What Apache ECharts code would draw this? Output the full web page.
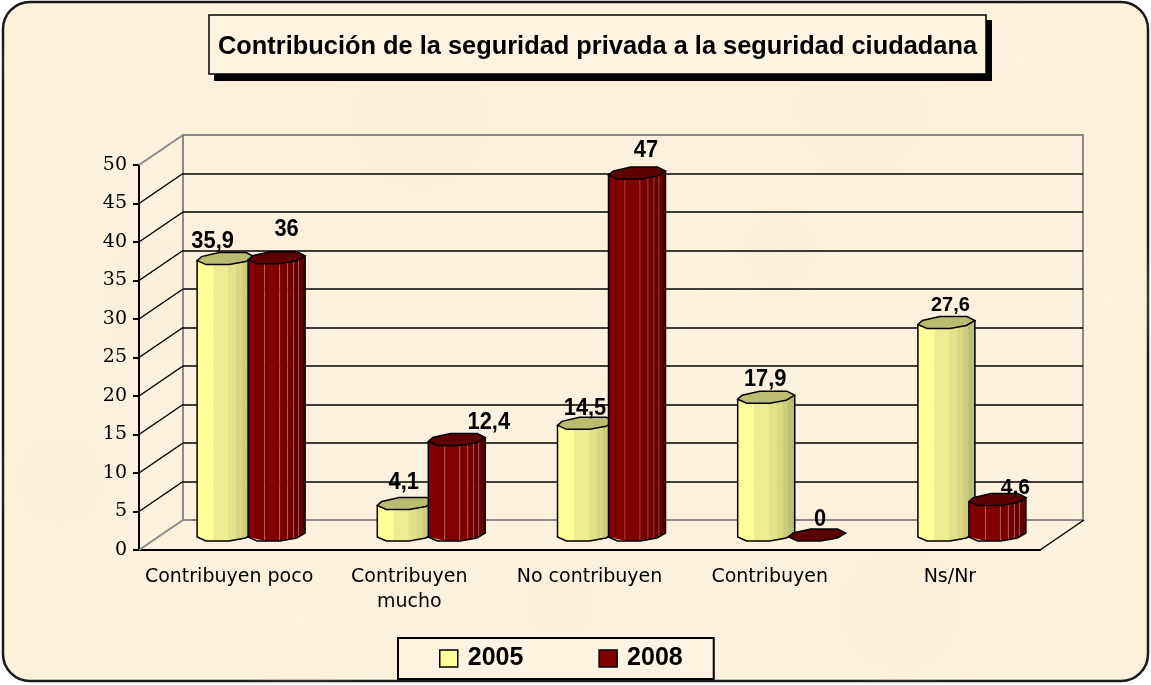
<!DOCTYPE html>
<html><head><meta charset="utf-8">
<style>html,body{margin:0;padding:0;background:#fff}#c{width:1151px;height:685px}</style>
<script src="https://cdn.jsdelivr.net/npm/echarts@6/dist/echarts.min.js"></script></head>
<body><div id="c"></div>
<script>
const categories = ['Contribuyen poco','Contribuyen\nmucho','No contribuyen','Contribuyen','Ns/Nr'];
const values2005 = [35.9,4.1,14.5,17.9,27.6];
const values2008 = [36,12.4,47,0,4.6];
const labels2005 = ['35,9','4,1','14,5','17,9','27,6'];
const labels2008 = ['36','12,4','47','0','4,6'];
const yTicks = [0,5,10,15,20,25,30,35,40,45,50];

// presentation settings
const DEPTH=[44,-30], MID=[22,-15], SPREAD=25.5;
const TOP=[[-28.5,2],[-24,-2],[-6.5,-6],[20.5,-6],[28.5,-2],[20,3],[3.5,6],[-19.5,6]];
const FRONT=[[-28.5,2],[-19.5,6],[3.5,6],[20,3],[28.5,-2]];
const STRIPS=[-28.5,-12,3,11,17,22,28.5];
const YEL={s:['#ffff99','#eeee90','#e2e288','#d8d882','#cccc7b','#bebe72'],top:'#bcbc70',line:null};
const RED={s:['#800000','#800000','#7a0000','#700000','#660000','#5c0000'],top:'#5c0000',line:'rgba(235,150,150,.3)'};
const nudge2005=[[-13,-17],[-2,-21],[-1,-15],[-1,-18],[4,-17]];
const nudge2008=[[10,-28],[32,-17],[9,-22],[3,-15],[18,-12]];
const sizes2005=[23,23,23,23,21], sizes2008=[23,23,23,23,22];
const BLOTCHES=[[30,62,35,'#fff6f0',.3],[160,300,90,'#f6e6c0',.2],[420,120,110,'#f7e8c6',.2],[640,330,120,'#fff8ea',.3],
  [860,110,100,'#f6e6c0',.18],[1110,300,70,'#fff8ea',.3],[300,620,90,'#fff8ea',.3],[900,610,100,'#f7e8c6',.18],
  [60,480,70,'#f7e8c6',.2],[1020,60,60,'#fff8ea',.3],[560,600,60,'#f7e8c6',.16],[780,250,70,'#f7e8c6',.12]];

function frontY(x){for(let i=0;i<FRONT.length-1;i++){const a=FRONT[i],b=FRONT[i+1];
  if(x<=b[0])return a[1]+(b[1]-a[1])*(x-a[0])/(b[0]-a[0]);}return FRONT[FRONT.length-1][1];}
function barRender(sign,pal,labels,nudge,sizes){
  return function(p,api){
    const top=api.coord([api.value(0),api.value(1)]), base=api.coord([api.value(0),0]);
    const cx=top[0]+MID[0]+sign*SPREAD, yt=top[1]+MID[1], yb=base[1]+MID[1], ch=[];
    if(yb-yt>0.5){
      for(let i=0;i<STRIPS.length-1;i++){const a=STRIPS[i],b=STRIPS[i+1];
        ch.push({type:'polygon',shape:{points:[[cx+a,yt+frontY(a)],[cx+b,yt+frontY(b)],[cx+b,yb+frontY(b)],[cx+a,yb+frontY(a)]]},
          style:{fill:pal.s[i],stroke:pal.line||pal.s[i],lineWidth:pal.line?1:.5}});}
      const pts=[[cx-28.5,yt+2]].concat(FRONT.map(f=>[cx+f[0],yb+f[1]]),[[cx+28.5,yt-2]]);
      ch.push({type:'polyline',shape:{points:pts},style:{fill:null,stroke:'#000',lineWidth:1.5}});
    }
    ch.push({type:'polygon',shape:{points:TOP.map(t=>[cx+t[0],yt+t[1]])},style:{fill:pal.top,stroke:'#000',lineWidth:1.5}});
    const i=p.dataIndex,n=nudge[i];
    ch.push({type:'text',x:cx+n[0],y:yt+n[1],scaleX:.95,style:{text:labels[i],fill:'#000',align:'center',verticalAlign:'middle',
      font:'bold '+sizes[i]+'px "Liberation Sans"'}});
    return {type:'group',children:ch};
  };
}
function wallRender(p,api){
  const v=api.value(0), c=api.coord([0,v]), x=p.coordSys.x, ch=[];
  const edge=v===0||v===50, col=edge?'#8a8a8a':'#000';
  ch.push({type:'line',shape:{x1:x,y1:c[1],x2:x+DEPTH[0],y2:c[1]+DEPTH[1]},style:{stroke:col,lineWidth:edge?2:1.5}});
  if(v===0)ch.push({type:'line',shape:{x1:x+p.coordSys.width,y1:c[1],x2:x+p.coordSys.width+DEPTH[0],y2:c[1]+DEPTH[1]},style:{stroke:'#000',lineWidth:1.5}});
  return {type:'group',children:ch};
}
const chart=echarts.init(document.getElementById('c'),null,{renderer:'canvas'});
chart.setOption({
  animation:false,
  graphic:[{type:'rect',z:-10,silent:true,shape:{x:3,y:2,width:1145,height:679,r:27},
      style:{fill:'#fbf1dc',stroke:'#1a1a1a',lineWidth:2.5}}]
    .concat(BLOTCHES.map(b=>({type:'circle',z:-9,silent:true,shape:{cx:b[0],cy:b[1],r:b[2]},
      style:{opacity:b[4],fill:new echarts.graphic.RadialGradient(.5,.5,.5,[{offset:0,color:b[3]},{offset:1,color:'rgba(251,241,220,0)'}])}})))
    .concat([{type:'rect',z:-5,silent:true,shape:{x:214,y:20,width:778,height:61},style:{fill:'#000'}}]),
  title:{text:'Contribución de la seguridad privada a la seguridad ciudadana',left:209,top:15,
    padding:[19,9,15,9],backgroundColor:'#fcf3e0',borderColor:'#000',borderWidth:1.5,
    textStyle:{fontFamily:'Liberation Sans',fontWeight:'bold',fontSize:25.4,color:'#000'}},
  legend:{data:['2005','2008'],left:398,top:638,padding:[8,31,8,41],itemGap:75,itemWidth:18,itemHeight:17,icon:'rect',
    backgroundColor:'#fcf3e0',borderColor:'#000',borderWidth:2,selectedMode:false,
    itemStyle:{borderColor:'#000',borderWidth:1.5},
    textStyle:{fontFamily:'Liberation Sans',fontWeight:'bold',fontSize:25,color:'#000',padding:[0,0,0,5]}},
  grid:[{left:139,top:165,width:901,height:385},
        {left:183,top:135,width:900,height:385,show:true,borderColor:'#8a8a8a',borderWidth:2,backgroundColor:'transparent'}],
  xAxis:[{type:'category',gridIndex:0,data:categories,
      axisLine:{lineStyle:{color:'#000',width:2}},axisTick:{length:5,lineStyle:{color:'#000',width:2}},
      axisLabel:{interval:0,margin:15,fontFamily:'DejaVu Sans',fontSize:19,color:'#000',lineHeight:25}},
    {type:'category',gridIndex:1,data:categories,show:false}],
  yAxis:[{type:'value',gridIndex:0,min:0,max:50,interval:5,splitLine:{show:false},
      axisLine:{show:true,lineStyle:{color:'#000',width:2}},axisTick:{show:true,length:6,lineStyle:{color:'#000',width:2}},
      axisLabel:{margin:12,fontFamily:'DejaVu Serif',fontSize:19,color:'#000',customValues:yTicks}},
    {type:'value',gridIndex:1,min:0,max:50,interval:5,axisLine:{show:false},axisTick:{show:false},axisLabel:{show:false},
      splitLine:{show:true,showMinLine:false,showMaxLine:false,lineStyle:{color:'#000',width:1.5}}}],
  series:[
    {type:'custom',name:'walls',silent:true,xAxisIndex:0,yAxisIndex:0,data:yTicks.map(v=>[v]),encode:{y:0},renderItem:wallRender,z:1},
    {type:'custom',name:'2005',silent:true,xAxisIndex:0,yAxisIndex:0,itemStyle:{color:'#ffff99'},z:3,
      data:values2005.map((v,i)=>[i,v]),encode:{x:0,y:1},clip:false,renderItem:barRender(-1,YEL,labels2005,nudge2005,sizes2005)},
    {type:'custom',name:'2008',silent:true,xAxisIndex:0,yAxisIndex:0,itemStyle:{color:'#800000'},z:4,
      data:values2008.map((v,i)=>[i,v]),encode:{x:0,y:1},clip:false,renderItem:barRender(1,RED,labels2008,nudge2008,sizes2008)}
  ]
});
</script></body></html>
